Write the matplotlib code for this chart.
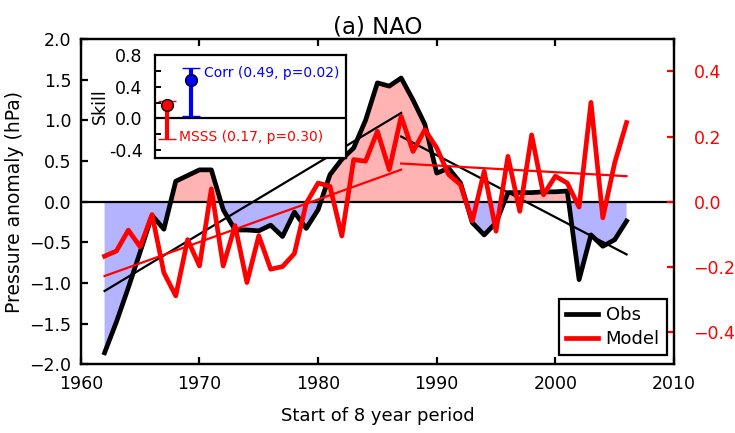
import numpy as np
import matplotlib
matplotlib.use("Agg")
import matplotlib.pyplot as plt

# start year of each 8-year window
years = np.arange(1962, 2007)

obs = [-1.86, -1.48, -1.06, -0.62, -0.17, -0.34, 0.25, 0.32, 0.39, 0.39,
       -0.10, -0.35, -0.35, -0.36, -0.29, -0.43, -0.13, -0.33, -0.10, 0.33,
       0.52, 0.66, 1.00, 1.46, 1.42, 1.52, 1.25, 0.95, 0.35, 0.41,
       0.23, -0.26, -0.41, -0.26, 0.11, 0.11, 0.11, 0.12, 0.12, 0.13,
       -0.96, -0.41, -0.55, -0.47, -0.24]

model = [-0.168, -0.152, -0.088, -0.139, -0.040, -0.219, -0.290, -0.117, -0.198, 0.039,
         -0.198, -0.074, -0.249, -0.105, -0.208, -0.200, -0.160, -0.005, 0.057, 0.047,
         -0.106, 0.129, 0.124, 0.216, 0.098, 0.262, 0.154, 0.221, 0.165, 0.083,
         0.052, -0.060, 0.093, -0.091, 0.139, -0.030, 0.205, 0.021, 0.078, 0.057,
         -0.017, 0.305, -0.050, 0.119, 0.243]

# trend segments (end points)
trend_years_1 = [1962, 1987]
trend_years_2 = [1987, 2006]
obs_trend_1 = [-1.10, 1.09]
obs_trend_2 = [0.80, -0.65]
model_trend_1 = [-0.229, 0.098]
model_trend_2 = [0.117, 0.078]

# skill inset
skill_x = [1, 2]
skill_val = [0.17, 0.49]
skill_lo = [-0.26, 0.025]
skill_hi = [0.22, 0.64]
skill_col = ["red", "blue"]
skill_txt = ["MSSS (0.17, p=0.30)", "Corr (0.49, p=0.02)"]

FS = 12.5
plt.rcParams["font.size"] = FS
plt.rcParams["axes.linewidth"] = 1.6

fig = plt.figure(figsize=(7.35, 4.33), dpi=100)
ax = fig.add_axes([0.110, 0.159, 0.807, 0.751])

obs_a = np.array(obs)
ax.fill_between(years, obs_a, 0, where=obs_a >= 0, interpolate=True,
                color="#ffb3b3", lw=0)
ax.fill_between(years, obs_a, 0, where=obs_a <= 0, interpolate=True,
                color="#b3b3ff", lw=0)
ax.axhline(0, color="black", lw=1.6)
l_obs, = ax.plot(years, obs, color="black", lw=3.4, label="Obs")
ax.plot(trend_years_1, obs_trend_1, color="black", lw=1.6)
ax.plot(trend_years_2, obs_trend_2, color="black", lw=1.6)

ax.set_xlim(1960, 2010)
ax.set_ylim(-2.0, 2.0)
ax.set_xticks(np.arange(1960, 2011, 10))
ax.set_yticks(np.arange(-2.0, 2.01, 0.5))
ax.tick_params(direction="in", length=5, width=1.6, top=True, right=False)
ax.tick_params(axis="y", pad=7)
ax.tick_params(axis="x", pad=8)
ax.set_xlabel("Start of 8 year period", fontsize=13, labelpad=10)
ax.set_ylabel("Pressure anomaly (hPa)", fontsize=13.5)
ax.set_title("(a) NAO", fontsize=16.5, pad=1)

ax2 = ax.twinx()
l_mod, = ax2.plot(years, model, color="red", lw=3.4, label="Model")
ax2.plot(trend_years_1, model_trend_1, color="red", lw=1.6)
ax2.plot(trend_years_2, model_trend_2, color="red", lw=1.6)
ax2.set_ylim(-0.5, 0.5)
ax2.set_yticks([-0.4, -0.2, 0.0, 0.2, 0.4])
ax2.tick_params(axis="y", direction="in", length=5, width=1.6,
                colors="red", labelcolor="red", pad=14)
ax2.legend(handles=[l_obs, l_mod], loc="lower right",
           bbox_to_anchor=(0.988, 0.028), borderaxespad=0, fontsize=13,
           fancybox=False, edgecolor="black", framealpha=1,
           handlelength=1.8, handletextpad=0.4, borderpad=0.4,
           labelspacing=0.3).get_frame().set_linewidth(1.6)

ins = fig.add_axes([0.211, 0.635, 0.260, 0.238], zorder=5)
ins.axhline(0, color="black", lw=1.6)
for x, v, lo, hi, c in zip(skill_x, skill_val, skill_lo, skill_hi, skill_col):
    ins.errorbar([x], [v], yerr=[[v - lo], [hi - v]], fmt="o", color=c,
                 ecolor=c, elinewidth=3, capsize=6.5, capthick=1.8,
                 markersize=8.5, markeredgecolor="black", markeredgewidth=1)
ins.text(1.5, -0.23, skill_txt[0], color="red", fontsize=10, va="center")
ins.text(2.55, 0.57, skill_txt[1], color="blue", fontsize=10, va="center")
ins.set_xlim(0.5, 8.5)
ins.set_ylim(-0.5, 0.8)
ins.set_xticks([])
ins.set_yticks([-0.4, -0.2, 0.0, 0.2, 0.4, 0.6, 0.8])
ins.set_yticklabels(["-0.4", "", "0.0", "", "0.4", "", "0.8"])
ins.tick_params(axis="y", direction="in", length=4, width=1.4, pad=9)
ins.set_ylabel("Skill", labelpad=0)

fig.savefig("out.png", dpi=100)
